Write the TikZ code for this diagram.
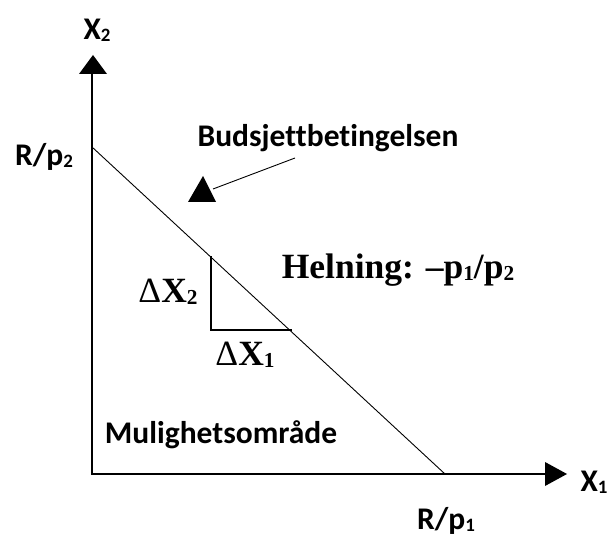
\documentclass[tikz,border=0pt]{standalone}
\usepackage{graphicx}
\usepackage{fontspec}
\setmainfont{Carlito}[Ligatures=NoCommon]
\newfontfamily\tnr{Liberation Serif}
\newcommand\subd[1]{\raisebox{-0.06em}{\scalebox{0.6}{#1}}}
\begin{document}
\begin{tikzpicture}[x=1pt,y=-1pt,
  lab/.style={font=\fontsize{31.5}{34}\selectfont\bfseries, inner sep=0pt},
  serlab/.style={font=\tnr\fontsize{35.5}{38}\selectfont\bfseries, inner sep=0pt},
  axis/.style={line width=1.6pt},
  thin/.style={line width=0.9pt},
  head/.style={fill=black, draw=none}]
\useasboundingbox (0,0) rectangle (613,540);
\coordinate (O) at (92,474);
\coordinate (ytip) at (92,74);
\coordinate (xtip) at (545,474);
\coordinate (A) at (92,147);
\coordinate (B) at (445,474);
\coordinate (T1) at (211,256);
\coordinate (T2) at (211,330);
\coordinate (T3) at (292,330);
\draw[axis] (ytip) -- (O) -- (xtip);
\fill[head] (79,74) -- (93,55) -- (107,74) -- cycle;
\fill[head] (545,462) -- (567,474) -- (545,486) -- cycle;
\draw[thin] (A) -- (B);
\draw[line width=1.2pt] (T1) -- (T2) -- (T3);
\fill[head] (188,202) -- (203,176) -- (216,202) -- cycle;
\coordinate (ms) at (213,189);
\coordinate (me) at (295,158);
\draw[thin] (ms) -- (me);
\node[lab] (x2) at (97,30) {X\subd{2}};
\node[lab] (x1) at (594,482) {X\subd{1}};
\node[lab] (rp2) at (44,157) {R/p\subd{2}};
\node[lab] (rp1) at (446,521) {R/p\subd{1}};
\node[lab] (bud) at (328,138) {Budsjettbetingelsen};
\node[lab] (mul) at (221,435) {Mulighetsområde};
\node[serlab] (hel) at (398,270) {Helning: –p\subd{1}/p\subd{2}};
\node[serlab] (dx2) at (168,292) {{\mdseries Δ}X\subd{2}};
\node[serlab] (dx1) at (245,355) {{\mdseries Δ}X\subd{1}};
\end{tikzpicture}
\end{document}
